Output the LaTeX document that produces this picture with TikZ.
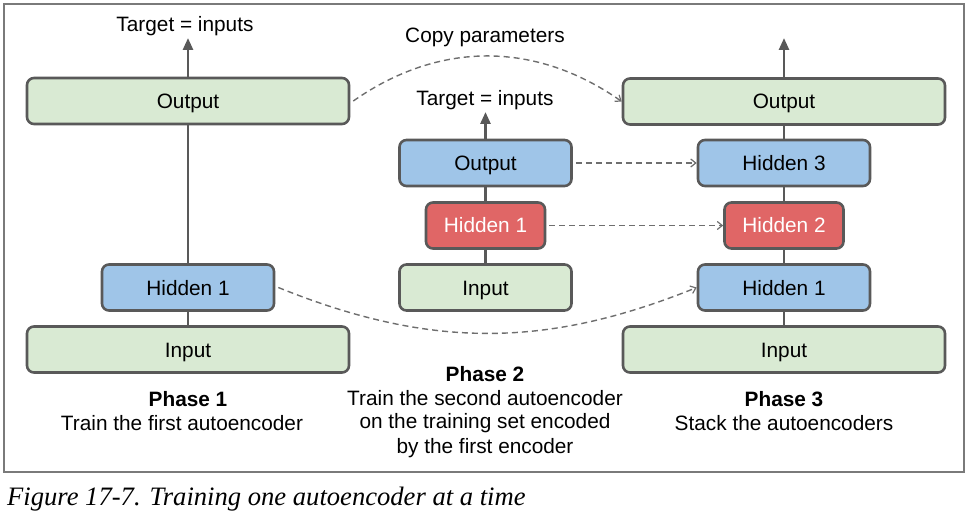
\documentclass[tikz,border=0pt]{standalone}
\usepackage{fontspec}
\setmainfont{Liberation Sans}
\newfontfamily\capfont{Liberation Serif}
\usetikzlibrary{arrows.meta}
\definecolor{boxgreen}{HTML}{D9EAD3}
\definecolor{boxblue}{HTML}{9FC5E8}
\definecolor{boxred}{HTML}{E06666}
\definecolor{edgegray}{HTML}{595959}
\definecolor{dashgray}{HTML}{6E6E6E}
\definecolor{framegray}{HTML}{7A7A7A}
\tikzset{
  layer/.style={draw=edgegray, line width=2.6pt, rounded corners=7pt, inner sep=0pt,
    minimum height=46pt, font=\fontsize{20.8}{24}\selectfont, text=black,
    text height=15pt, text depth=0pt},
  wide/.style={layer, fill=boxgreen, minimum width=322pt},
  midblue/.style={layer, fill=boxblue, minimum width=172pt},
  midgreen/.style={layer, fill=boxgreen, minimum width=172pt},
  smallred/.style={layer, fill=boxred, minimum width=119pt, text=white},
  link/.style={draw=edgegray, line width=2.6pt},
  uparrow/.style={link, -{Triangle[width=10pt,length=12pt]}},
  copyarrow/.style={draw=dashgray, line width=1.4pt, dash pattern=on 6pt off 4pt,
    -{Straight Barb[length=5pt,width=8pt,line width=1.2pt]}},
  lbl/.style={font=\fontsize{20.8}{24}\selectfont, inner sep=0pt},
  phase/.style={lbl, font=\fontsize{20.8}{24}\selectfont\bfseries},
}
\begin{document}
\begin{tikzpicture}[x=1pt,y=-1pt]
\useasboundingbox (0,0) rectangle (969,513);
\draw[framegray, line width=1.3pt] (4,4) rectangle (964,472);

% Phase 1
\node[wide] (o1) at (188,101) {Output};
\node[midblue] (h1) at (188,287.5) {Hidden 1};
\node[wide] (i1) at (188,349.5) {Input};
\coordinate (t1) at (188,38);
\draw[link] (i1.north) -- (h1.south);
\draw[link] (h1.north) -- (o1.south);
\draw[uparrow] (o1.north) -- (t1);
\node[lbl] (tg1) at (185,26) {Target = inputs};

% Phase 2
\node[midblue] (o2) at (485.5,163) {Output};
\node[smallred] (r2) at (485.5,225.5) {Hidden 1};
\node[midgreen] (i2) at (485.5,287.5) {Input};
\coordinate (t2) at (485.5,112);
\draw[link] (i2.north) -- (r2.south);
\draw[link] (r2.north) -- (o2.south);
\draw[uparrow] (o2.north) -- (t2);
\node[lbl] (tg2) at (485,100) {Target = inputs};

% Phase 3
\node[wide] (o3) at (784,101.5) {Output};
\node[midblue] (h33) at (784,163) {Hidden 3};
\node[smallred] (h32) at (784,225.5) {Hidden 2};
\node[midblue] (h31) at (784,287.5) {Hidden 1};
\node[wide] (i3) at (784,349.5) {Input};
\coordinate (t3) at (784,38);
\draw[link] (i3.north) -- (h31.south);
\draw[link] (h31.north) -- (h32.south);
\draw[link] (h32.north) -- (h33.south);
\draw[link] (h33.north) -- (o3.south);
\draw[uparrow] (o3.north) -- (t3);

% copy connectors
\node[lbl] (cp) at (485,37) {Copy parameters};
\draw[copyarrow] ([xshift=3pt]o1.east) to[out=35,in=145] (o3.west);
\draw[copyarrow] ([xshift=3pt]h1.east) to[out=-22,in=202] (h31.west);
\draw[copyarrow] ([xshift=3pt]o2.east) -- (h33.west);
\draw[copyarrow] ([xshift=3pt]r2.east) -- (h32.west);

% phase captions
\node[phase] (p1) at (188,399) {Phase 1};
\node[lbl] (p1a) at (182,423) {Train the first autoencoder};
\node[phase] (p2) at (485,374) {Phase 2};
\node[lbl] (p2a) at (485,398) {Train the second autoencoder};
\node[lbl] (p2b) at (485,423) {on the training set encoded};
\node[lbl] (p2c) at (485,448) {by the first encoder};
\node[phase] (p3) at (784,399) {Phase 3};
\node[lbl] (p3a) at (784,423) {Stack the autoencoders};

% figure caption
\node[anchor=base west, inner sep=0pt, font=\capfont\itshape\fontsize{26.6}{30}\selectfont] (fig) at (7,505) {Figure 17-7. Training one autoencoder at a time};
\end{tikzpicture}
\end{document}
